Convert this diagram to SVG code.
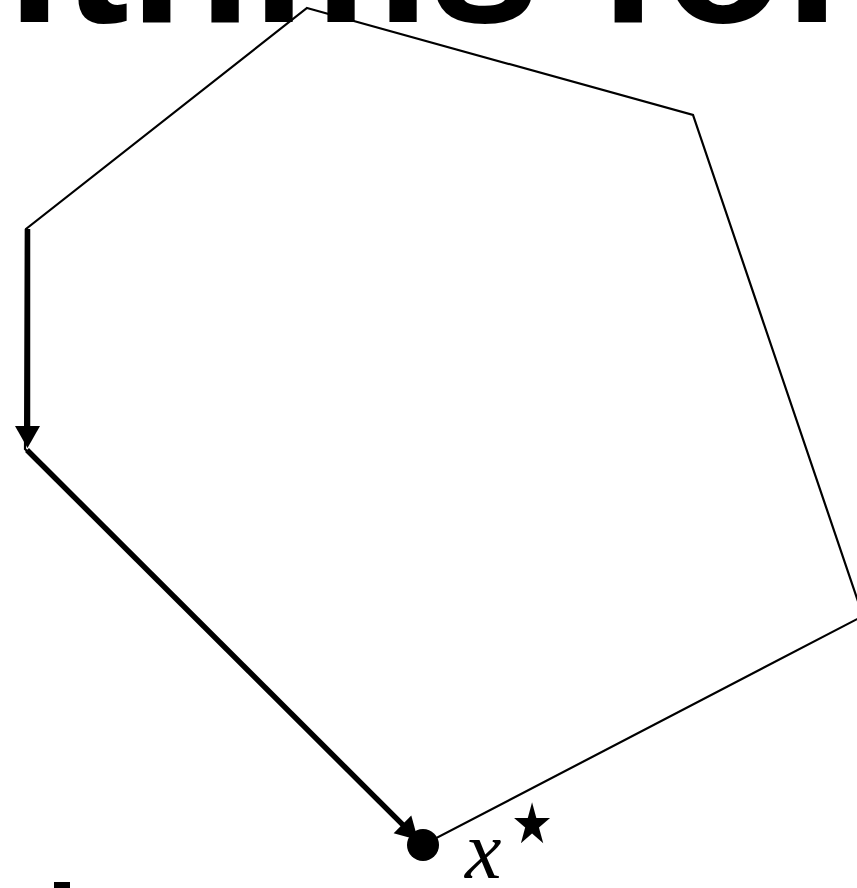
<svg xmlns="http://www.w3.org/2000/svg" width="857" height="888" viewBox="0 0 857 888">
<style>
.thin{fill:none;stroke:#000;stroke-width:2.2;stroke-linejoin:miter}
.thick{fill:none;stroke:#000;stroke-width:5.5}
.title{font-family:"Liberation Sans",Arial,sans-serif;font-weight:bold;font-size:200px;fill:#000}
.math{font-family:"Liberation Serif","DejaVu Serif",serif;font-style:italic;font-size:82px;fill:#000}
.star{font-family:"DejaVu Sans",sans-serif;font-size:47px;fill:#000}
</style>
<defs>
<marker id="arr" markerUnits="userSpaceOnUse" markerWidth="24" markerHeight="26" refX="7" refY="12.5" orient="auto" overflow="visible">
<path d="M0,0 L22,12.5 L0,25 Z" fill="#000"/>
</marker>
</defs>
<rect width="857" height="888" fill="#fff"/>
<g id="title"><text class="title" x="-71" y="22">rithms for</text></g>
<g id="polygon"><polygon class="thin" points="307,8 693,115 863,616 423,845 25,449 26,229"/></g>
<g id="connectors">
<line class="thick" x1="27.5" y1="229" x2="27.5" y2="433" marker-end="url(#arr)"/>
<line class="thick" x1="27" y1="450" x2="407.4" y2="829.4" marker-end="url(#arr)"/>
</g>
<g id="xstar">
<circle cx="423" cy="845" r="16" fill="#000"/>
<text class="math" x="465" y="878">x</text>
<text class="star" transform="translate(511,843) scale(1,1.2)">★</text>
</g>
<g id="fragment"><rect x="54" y="882" width="16" height="6" fill="#000"/></g>
</svg>
